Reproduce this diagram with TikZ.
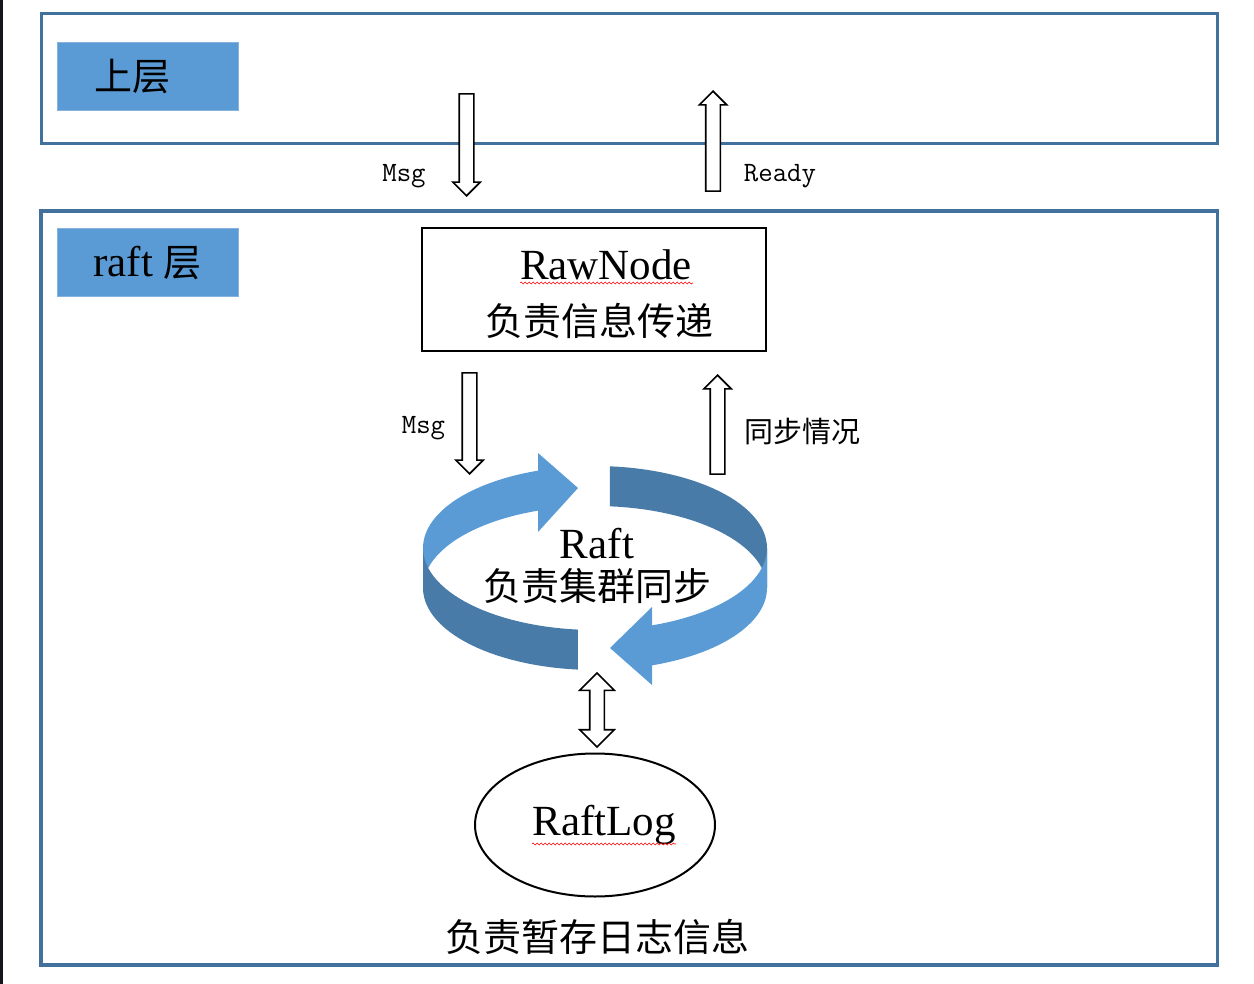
\documentclass[tikz,border=0pt]{standalone}
\usepackage{fontspec}
\setmainfont{Liberation Serif}
\newfontfamily\cjk{Noto Sans CJK SC}
\usepackage{xcolor}
\usepackage{tikz}
\usetikzlibrary{positioning, shapes.geometric, shapes.arrows, decorations.pathmorphing}
\definecolor{layerblue}{RGB}{65,113,156}
\definecolor{lblblue}{RGB}{91,155,213}
\definecolor{lbledge}{RGB}{135,178,222}
\definecolor{ringlight}{RGB}{90,155,213}
\definecolor{ringdark}{RGB}{72,123,168}
\definecolor{edgedark}{RGB}{20,22,28}

\tikzset{
    layerbox/.style={rectangle, draw=layerblue, line width=1.75pt},
    lblbox/.style={rectangle, draw=lbledge, line width=0.5pt, fill=lblblue, minimum width=90.5pt, minimum height=34pt, inner sep=0pt},
    blockarrow/.style={single arrow, draw, fill=white, line width=0.8pt, inner xsep=0pt, inner ysep=3.25pt, single arrow head extend=3.25pt, anchor=tip},
    bothway/.style={double arrow, draw, fill=white, line width=0.8pt, inner xsep=0pt, inner ysep=3.25pt, double arrow head extend=5pt},
    msgtxt/.style={font={\ttfamily\fontsize{14}{16}\selectfont}},
    cjktxt/.style={font={\cjk\fontsize{14.5}{17}\selectfont}},
    spell/.style={red, line width=0.3pt, decorate, decoration={snake, amplitude=0.45pt, segment length=2pt}}
}

\begin{document}
\begin{tikzpicture}[x=0.5pt, y=-0.5pt]
        \useasboundingbox (0,0) rectangle (1254,984);
        \fill[edgedark] (0,0) rectangle (3,984);

        % the two layers
        \node (upper) at (629.5,78.5) [layerbox, minimum width=588pt, minimum height=65pt] {};
        \node (raftlayer) at (629.25,588) [layerbox, minimum width=588.25pt, minimum height=377pt] {};
        \node (upperlbl) at (147.5,77) [lblbox, font=\cjk\fontsize{19}{22}\selectfont] {上层\hspace*{15pt}};
        \node (raftlbl) at (147.5,263) [lblbox, font=\fontsize{21.5}{24}\selectfont] {raft {\cjk\fontsize{19}{22}\selectfont 层}};

        \node (rawnode) at (594,289.5) [rectangle, draw, line width=1pt, minimum width=172pt, minimum height=61.5pt, align=center, font=\fontsize{21.5}{28}\selectfont] {\rule{0pt}{19.6pt}\hspace*{12pt}RawNode\\{\cjk\fontsize{19}{28}\selectfont\hspace*{5pt}负责信息传递}};
        \draw[spell] (520,283) -- (693,283);

        % ring, back half first
        \fill[ringlight] plot[domain=180:250.7, samples=30] ({595+172*cos(\x)},{548+82*sin(\x)})
            -- plot[domain=250.7:180, samples=30] ({595+172*cos(\x)},{588+82*sin(\x)}) -- cycle;
        \fill[ringlight] (538,453) -- (578,488) -- (538,532) -- cycle;
        \fill[ringdark] plot[domain=275:360, samples=30] ({595+172*cos(\x)},{548+82*sin(\x)})
            -- plot[domain=360:275, samples=30] ({595+172*cos(\x)},{588+82*sin(\x)}) -- cycle;
        % front half
        \fill[ringdark] plot[domain=95.7:180, samples=30] ({595+172*cos(\x)},{548+82*sin(\x)})
            -- plot[domain=180:95.7, samples=30] ({595+172*cos(\x)},{588+82*sin(\x)}) -- cycle;
        \fill[ringlight] plot[domain=0:70.7, samples=30] ({595+172*cos(\x)},{548+82*sin(\x)})
            -- plot[domain=70.7:0, samples=30] ({595+172*cos(\x)},{588+82*sin(\x)}) -- cycle;
        \fill[ringlight] (652,607) -- (610,648) -- (652,685) -- cycle;
        \node (raft) at (597,566) [align=center, font=\fontsize{21.5}{21}\selectfont] {Raft\\{\cjk\fontsize{19}{21}\selectfont 负责集群同步}};

        \node (raftlog) at (595,825) [ellipse, draw, line width=1pt, inner sep=0pt, minimum width=120pt, minimum height=71.5pt, font=\fontsize{21.5}{24}\selectfont] {\hspace*{9pt}RaftLog};
        \draw[spell] (532,844) -- (676,844);
        \node (logdesc) at (597,937) [font=\cjk\fontsize{19}{22}\selectfont] {负责暂存日志信息};

        % block arrows
        \node (msgin) at (466.5,197) [blockarrow, rotate=-90, minimum height=51pt] {};
        \node (readyout) at (713,90) [blockarrow, rotate=90, minimum height=50pt] {};
        \node (msgdown) at (469.5,475) [blockarrow, rotate=-90, minimum height=50.5pt] {};
        \node (syncup) at (717.5,374) [blockarrow, rotate=90, minimum height=49.5pt] {};
        \node (logarrow) at (597,710) [bothway, rotate=90, minimum height=37pt] {};

        \node at (404,176) [msgtxt] {Msg};
        \node at (780,176) [msgtxt] {Ready};
        \node at (423.5,428) [msgtxt] {Msg};
        \node at (802.5,432) [cjktxt] {同步情况};
\end{tikzpicture}
\end{document}
